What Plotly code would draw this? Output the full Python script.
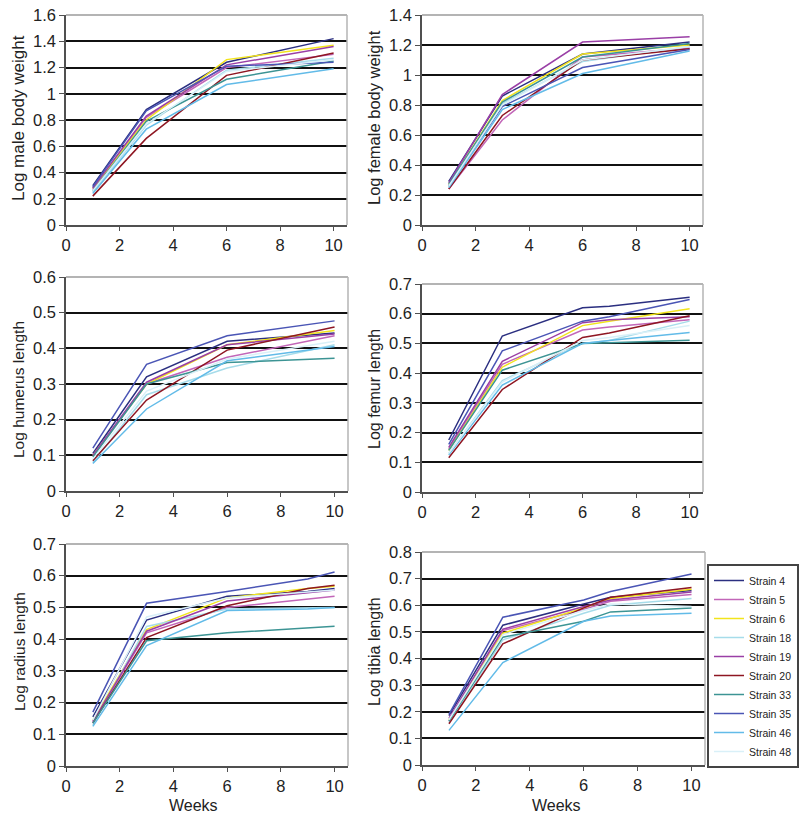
import plotly.graph_objects as go

W, H = 800, 818

strains = ["Strain 4", "Strain 5", "Strain 6", "Strain 18", "Strain 19",
           "Strain 20", "Strain 33", "Strain 35", "Strain 46", "Strain 48"]
colors = ["#2b2f80", "#c266b8", "#f2e41c", "#a6dcea", "#9a3fa6",
          "#8e1622", "#3c9494", "#4a55b5", "#62bbe8", "#d9f0f8"]

# ---- data ----
male_weeks = [1, 3, 6, 10]
male = [
    [0.30, 0.88, 1.24, 1.42],
    [0.27, 0.82, 1.20, 1.30],
    [0.28, 0.80, 1.26, 1.37],
    [0.25, 0.76, 1.18, 1.27],
    [0.28, 0.83, 1.22, 1.36],
    [0.22, 0.66, 1.14, 1.31],
    [0.26, 0.79, 1.11, 1.25],
    [0.29, 0.87, 1.21, 1.24],
    [0.24, 0.73, 1.07, 1.19],
    [0.26, 0.77, 1.17, 1.26],
]

female_weeks = [1, 3, 6, 10]
female = [
    [0.29, 0.86, 1.14, 1.22],
    [0.24, 0.70, 1.12, 1.18],
    [0.27, 0.83, 1.14, 1.20],
    [0.26, 0.81, 1.09, 1.19],
    [0.28, 0.87, 1.22, 1.255],
    [0.24, 0.73, 1.10, 1.175],
    [0.27, 0.82, 1.12, 1.21],
    [0.26, 0.79, 1.05, 1.17],
    [0.25, 0.77, 1.01, 1.16],
    [0.26, 0.80, 1.10, 1.19],
]

humerus_weeks = [1, 3, 6, 10]
humerus = [
    [0.105, 0.32, 0.42, 0.443],
    [0.100, 0.30, 0.375, 0.435],
    [0.100, 0.30, 0.41, 0.45],
    [0.080, 0.27, 0.345, 0.41],
    [0.100, 0.305, 0.41, 0.44],
    [0.085, 0.255, 0.395, 0.46],
    [0.095, 0.30, 0.36, 0.372],
    [0.120, 0.355, 0.435, 0.477],
    [0.077, 0.23, 0.365, 0.405],
    [0.090, 0.28, 0.37, 0.42],
]

femur_weeks = [1, 3, 6, 7, 10]
femur = [
    [0.175, 0.525, 0.62, 0.625, 0.655],
    [0.145, 0.43, 0.545, 0.555, 0.58],
    [0.140, 0.42, 0.56, 0.575, 0.617],
    [0.130, 0.375, 0.50, 0.51, 0.575],
    [0.150, 0.44, 0.57, 0.58, 0.59],
    [0.115, 0.345, 0.52, 0.535, 0.593],
    [0.140, 0.41, 0.50, 0.502, 0.511],
    [0.160, 0.475, 0.575, 0.59, 0.648],
    [0.125, 0.36, 0.50, 0.51, 0.537],
    [0.130, 0.37, 0.51, 0.52, 0.56],
]

radius_weeks = [1, 3, 6, 9, 10]
radius = [
    [0.155, 0.46, 0.535, 0.55, 0.56],
    [0.140, 0.42, 0.50, 0.525, 0.535],
    [0.145, 0.43, 0.53, 0.56, 0.567],
    [0.130, 0.44, 0.495, 0.50, 0.50],
    [0.140, 0.425, 0.52, 0.548, 0.555],
    [0.135, 0.405, 0.505, 0.56, 0.57],
    [0.135, 0.395, 0.42, 0.437, 0.441],
    [0.170, 0.513, 0.55, 0.59, 0.612],
    [0.125, 0.38, 0.49, 0.495, 0.50],
    [0.145, 0.47, 0.53, 0.55, 0.555],
]

tibia_weeks = [1, 3, 6, 7, 10]
tibia = [
    [0.185, 0.525, 0.605, 0.63, 0.655],
    [0.165, 0.505, 0.585, 0.615, 0.64],
    [0.170, 0.495, 0.59, 0.625, 0.66],
    [0.160, 0.47, 0.57, 0.60, 0.625],
    [0.175, 0.51, 0.595, 0.62, 0.65],
    [0.155, 0.455, 0.59, 0.63, 0.667],
    [0.165, 0.48, 0.54, 0.575, 0.59],
    [0.190, 0.555, 0.62, 0.652, 0.717],
    [0.130, 0.385, 0.54, 0.56, 0.57],
    [0.170, 0.49, 0.58, 0.605, 0.595],
]

x_ticks = [0, 2, 4, 6, 8, 10]


def dec(v):
    return "0" if v == 0 else f"{v:.1f}"


def gen(v):
    return f"{v:g}"


def fx(px):
    return px / W


def fy(py):
    return 1 - py / H


panels = [
    dict(weeks=male_weeks, data=male, title="Log male body weight", tsize=17,
         ymax=1.6, dy=0.2, fmt=gen, px=(66, 347), py=(15, 225), tx=19, ty=118),
    dict(weeks=female_weeks, data=female, title="Log female body weight", tsize=16.5,
         ymax=1.4, dy=0.2, fmt=gen, px=(422, 703), py=(15, 225), tx=374, ty=118),
    dict(weeks=humerus_weeks, data=humerus, title="Log humerus length", tsize=15.5,
         ymax=0.6, dy=0.1, fmt=dec, px=(66, 348), py=(277, 491), tx=19, ty=390),
    dict(weeks=femur_weeks, data=femur, title="Log femur length", tsize=16,
         ymax=0.7, dy=0.1, fmt=dec, px=(422, 703), py=(284, 492), tx=374, ty=389),
    dict(weeks=radius_weeks, data=radius, title="Log radius length", tsize=15.5,
         ymax=0.7, dy=0.1, fmt=dec, px=(66, 348), py=(544, 766), tx=19, ty=652),
    dict(weeks=tibia_weeks, data=tibia, title="Log tibia length", tsize=16,
         ymax=0.8, dy=0.1, fmt=dec, px=(422, 705), py=(552, 765), tx=374, ty=652),
]

FONT = "Liberation Sans, Arial, sans-serif"
TICKSIZE = 16.5
fig = go.Figure()
annotations = []
shapes = []

for i, p in enumerate(panels):
    n = i + 1
    xa = "x" if n == 1 else f"x{n}"
    ya = "y" if n == 1 else f"y{n}"
    for s, name in enumerate(strains):
        fig.add_trace(go.Scatter(
            x=p["weeks"], y=p["data"][s], mode="lines", name=name,
            line=dict(color=colors[s], width=1.5),
            legendgroup=name, showlegend=(i == 0),
            xaxis=xa, yaxis=ya))
    nt = int(round(p["ymax"] / p["dy"]))
    yt = [round(k * p["dy"], 2) for k in range(nt + 1)]
    dom_x = [fx(p["px"][0]), fx(p["px"][1])]
    dom_y = [fy(p["py"][1]), fy(p["py"][0])]
    axx = dict(domain=dom_x, range=[0, 10.5], tickvals=x_ticks,
               ticktext=[str(t) for t in x_ticks], showgrid=False, zeroline=False,
               showline=True, linecolor="#505050", linewidth=1.5,
               ticks="outside", ticklen=4, tickcolor="#505050",
               tickfont=dict(family=FONT, size=TICKSIZE, color="#222"),
               ticklabeloverflow="allow",
               anchor=ya, fixedrange=True, automargin=False)
    axy = dict(domain=dom_y, range=[0, p["ymax"]], tickvals=yt,
               ticktext=[p["fmt"](v) for v in yt], showgrid=True,
               gridcolor="#111111", gridwidth=1.7, zeroline=False,
               showline=True, linecolor="#505050", linewidth=1.5,
               ticks="outside", ticklen=5, tickcolor="#505050",
               tickfont=dict(family=FONT, size=TICKSIZE, color="#222"),
               ticklabeloverflow="allow",
               anchor=xa, fixedrange=True, automargin=False)
    fig.layout["xaxis" if n == 1 else f"xaxis{n}"] = axx
    fig.layout["yaxis" if n == 1 else f"yaxis{n}"] = axy
    # light grey top and right border of the plot area
    shapes.append(dict(type="line", xref=f"{xa} domain", yref=f"{ya} domain",
                       x0=0, x1=1, y0=1, y1=1, line=dict(color="#b4b4b4", width=2),
                       layer="above"))
    shapes.append(dict(type="line", xref=f"{xa} domain", yref=f"{ya} domain",
                       x0=1, x1=1, y0=0, y1=1, line=dict(color="#b4b4b4", width=1.5),
                       layer="above"))
    annotations.append(dict(text=p["title"], xref="paper", yref="paper",
                            x=fx(p["tx"]), y=fy(p["ty"]),
                            textangle=-90, showarrow=False, xanchor="center",
                            yanchor="middle",
                            font=dict(family=FONT, size=p["tsize"], color="#222")))

for wx in (193, 556):
    annotations.append(dict(text="Weeks", xref="paper", yref="paper", x=fx(wx),
                            y=fy(805), showarrow=False, xanchor="center",
                            yanchor="middle",
                            font=dict(family=FONT, size=16, color="#222")))

fig.update_layout(
    template="none",
    width=W, height=H, margin=dict(l=0, r=0, t=0, b=0, autoexpand=False),
    paper_bgcolor="white", plot_bgcolor="white",
    showlegend=True,
    legend=dict(x=fx(707), y=fy(564), xanchor="left", yanchor="top",
                bordercolor="#444444", borderwidth=2, bgcolor="white",
                font=dict(family=FONT, size=10.5, color="#222"),
                itemwidth=30, tracegroupgap=0, traceorder="normal"),
    annotations=annotations, shapes=shapes,
)

# remove the browser's default 8px page margin so the figure sits at (0, 0)
fig.write_html("out.html", config={"displayModeBar": False},
               post_script="document.body.style.margin='0px';")
